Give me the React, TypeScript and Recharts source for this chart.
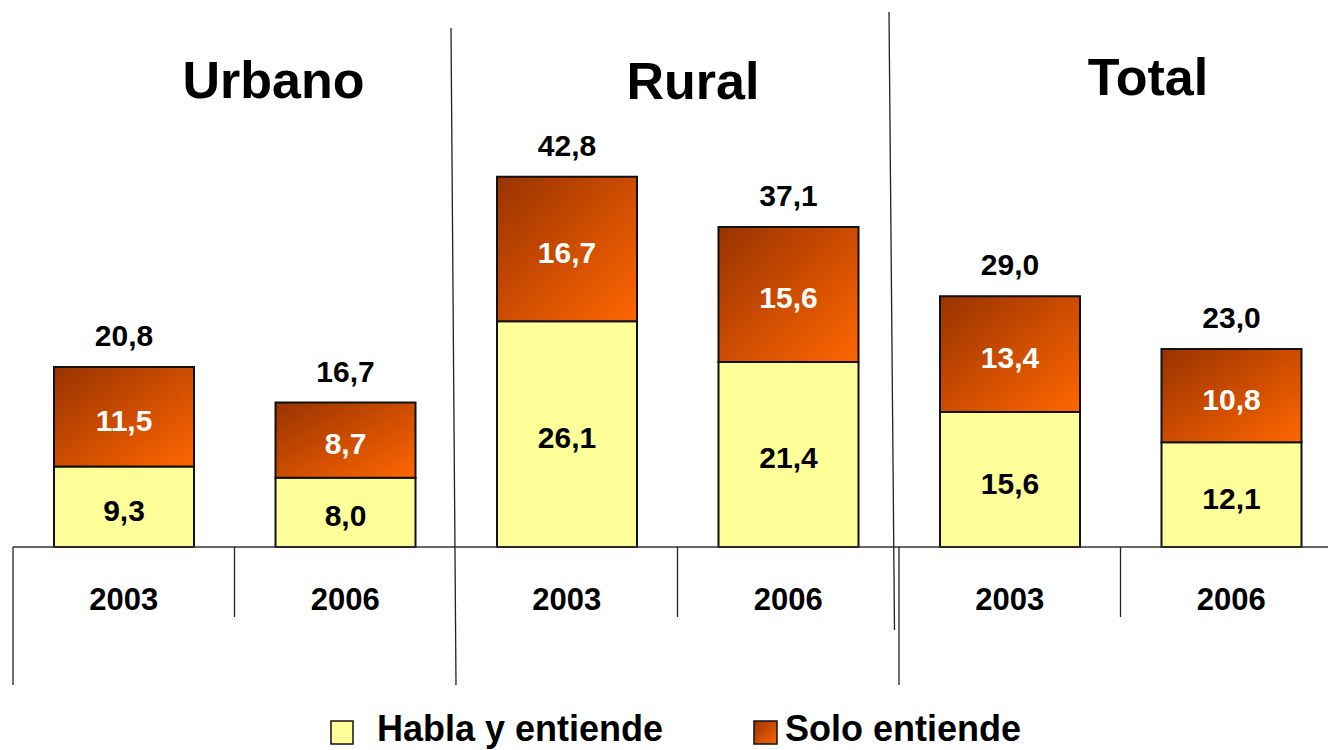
import React from 'react';
import { BarChart, Bar, XAxis, YAxis, LabelList } from 'recharts';

const groups = ['Urbano', 'Rural', 'Total'];
const categories = ['2003', '2006', '2003', '2006', '2003', '2006'];
const hablaValues = [9.3, 8.0, 26.1, 21.4, 15.6, 12.1];
const soloValues = [11.5, 8.7, 16.7, 15.6, 13.4, 10.8];
const totalValues = [20.8, 16.7, 42.8, 37.1, 29.0, 23.0];
const seriesNames = ['Habla y entiende', 'Solo entiende'];

const data = categories.map((year, i) => ({
  key: `${groups[Math.floor(i / 2)]}-${year}`,
  year,
  habla: hablaValues[i],
  solo: soloValues[i],
  total: totalValues[i],
}));

const FONT = '"Liberation Sans", Arial, Helvetica, sans-serif';
const CHART_W = 1342;
const CHART_H = 750;
const MARGIN = { top: 28, right: 0, left: 13, bottom: 63 };
const XAXIS_H = 140;
const AXIS_Y = CHART_H - MARGIN.bottom - XAXIS_H;
const CAT_W = (CHART_W - MARGIN.left - MARGIN.right) / categories.length;

const fmt = (v: number) => v.toFixed(1).replace('.', ',');

const YearTick = (props: any) => {
  const { x, index } = props;
  const bx = x - CAT_W / 2;
  const lines: React.ReactNode[] = [];
  if (index === 0) {
    lines.push(<line key="l0" x1={bx} y1={AXIS_Y} x2={bx} y2={AXIS_Y + 138} stroke="#222" strokeWidth={1.3} />);
  } else if (index % 2 === 1) {
    lines.push(<line key="ls" x1={bx} y1={AXIS_Y} x2={bx} y2={AXIS_Y + 70} stroke="#222" strokeWidth={1.3} />);
  } else if (index === 2) {
    lines.push(<line key="lg" x1={bx - 5} y1={28} x2={bx} y2={AXIS_Y + 138} stroke="#222" strokeWidth={1.3} />);
  } else if (index === 4) {
    lines.push(<line key="lg1" x1={bx - 10} y1={12} x2={bx - 4.5} y2={AXIS_Y + 83} stroke="#222" strokeWidth={1.3} />);
    lines.push(<line key="lg2" x1={bx} y1={AXIS_Y} x2={bx} y2={AXIS_Y + 138} stroke="#222" strokeWidth={1.3} />);
  }
  return (
    <g>
      {lines}
      <text x={x} y={AXIS_Y + 63} textAnchor="middle" fontFamily={FONT} fontWeight="bold" fontSize={31} fill="#000">
        {data[index]?.year}
      </text>
    </g>
  );
};

const innerLabel = (color: string) => (props: any) => {
  const { x, y, width, height, value } = props;
  return (
    <text x={x + width / 2} y={y + height / 2 + 14} textAnchor="middle" fontFamily={FONT} fontWeight="bold" fontSize={30} fill={color}>
      {fmt(Number(value))}
    </text>
  );
};

const topLabel = (props: any) => {
  const { x, y, width, value } = props;
  return (
    <text x={x + width / 2} y={y - 21} textAnchor="middle" fontFamily={FONT} fontWeight="bold" fontSize={30} fill="#000">
      {fmt(Number(value))}
    </text>
  );
};

const titleX = [273.5, 693, 1148];
const titleY = [98, 99, 95];

export default function App() {
  return (
    <div style={{ position: 'absolute', left: 0, top: 0, width: 1328, height: 750, overflow: 'hidden', background: '#fff' }}>
      <BarChart width={CHART_W} height={CHART_H} data={data} margin={MARGIN}>
        <defs>
          <linearGradient id="soloGrad" x1="0" y1="0" x2="1" y2="1">
            <stop offset="0%" stopColor="#993300" />
            <stop offset="100%" stopColor="#FF6600" />
          </linearGradient>
        </defs>
        <XAxis
          dataKey="key"
          height={XAXIS_H}
          axisLine={{ stroke: '#333', strokeWidth: 1.3 }}
          tickLine={false}
          tick={<YearTick />}
          interval={0}
        />
        <YAxis hide domain={[0, 60]} />
        <Bar dataKey="habla" stackId="a" barSize={140} fill="#FFFF99" stroke="#111" strokeWidth={2} isAnimationActive={false}>
          <LabelList dataKey="habla" content={innerLabel('#000')} />
        </Bar>
        <Bar dataKey="solo" stackId="a" barSize={140} fill="url(#soloGrad)" stroke="#111" strokeWidth={2} isAnimationActive={false}>
          <LabelList dataKey="solo" content={innerLabel('#fff')} />
          <LabelList dataKey="total" content={topLabel} />
        </Bar>
      </BarChart>
      <svg width={1328} height={750} style={{ position: 'absolute', left: 0, top: 0, pointerEvents: 'none' }}>
        <defs>
          <linearGradient id="soloGradLegend" x1="0" y1="0" x2="1" y2="1">
            <stop offset="0%" stopColor="#993300" />
            <stop offset="100%" stopColor="#FF6600" />
          </linearGradient>
        </defs>
        {groups.map((g, i) => (
          <text key={g} x={titleX[i]} y={titleY[i]} textAnchor="middle" fontFamily={FONT} fontWeight="bold" fontSize={52} fill="#000">
            {g}
          </text>
        ))}
        <rect x={331} y={721} width={22} height={23} fill="#FFFF99" stroke="#111" strokeWidth={1.5} />
        <text x={377} y={741} fontFamily={FONT} fontWeight="bold" fontSize={36} fill="#000">{seriesNames[0]}</text>
        <rect x={754} y={721} width={23} height={23} fill="url(#soloGradLegend)" stroke="#111" strokeWidth={1.5} />
        <text x={785} y={741} fontFamily={FONT} fontWeight="bold" fontSize={36} fill="#000">{seriesNames[1]}</text>
      </svg>
    </div>
  );
}
